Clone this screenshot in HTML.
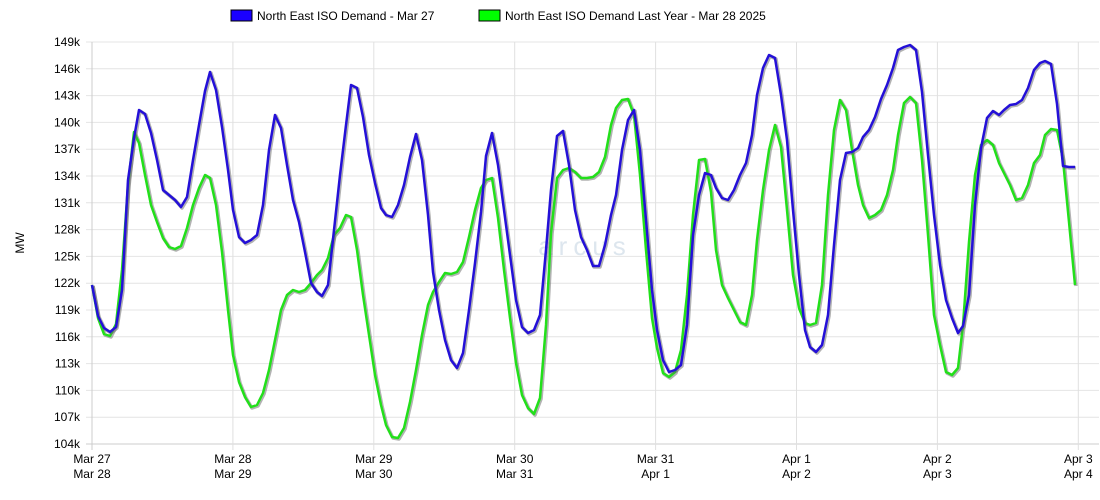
<!DOCTYPE html>
<html><head><style>body{margin:0;background:#fff}svg{display:block;font-family:"Liberation Sans",Arial,sans-serif}</style></head><body>
<svg width="1100" height="500" xmlns="http://www.w3.org/2000/svg" id="s">
<g id="grid"></g>
<rect x="231" y="10" width="21" height="11" fill="#1a00ff" stroke="#000" stroke-width="1"/>
<text x="257" y="20" font-size="12" fill="#000">North East ISO Demand - Mar 27</text>
<rect x="479" y="10" width="21" height="11" fill="#00ff00" stroke="#000" stroke-width="1"/>
<text x="505" y="20" font-size="12" fill="#000">North East ISO Demand Last Year - Mar 28 2025</text>
<text transform="translate(24,243) rotate(-90)" font-size="12" text-anchor="middle">MW</text>
<text x="585" y="255" font-size="26" fill="#dde6ee" text-anchor="middle" letter-spacing="6">arcus</text>
<polyline id="g" fill="none" stroke="#666" stroke-opacity="0.5" stroke-width="3.5" stroke-linejoin="round" transform="translate(1,1)"/>
<polyline id="g2" fill="none" stroke="#22e01a" stroke-width="2.5" stroke-linejoin="round"/>
<polyline id="b" fill="none" stroke="#666" stroke-opacity="0.5" stroke-width="3.5" stroke-linejoin="round" transform="translate(1,1)"/>
<polyline id="b2" fill="none" stroke="#2410d8" stroke-width="2.5" stroke-linejoin="round"/>
</svg>
<script>
var B=[92,285,98,316,104,328,110,332,116,327,122,290,128,180,134,138,139,110,145,114,151,133,157,160,163,190,169,195,175,200,181,207,187,197,193,160,199,125,205,91,210,72,216,90,222,127,228,170,233,210,239,237,245,243,251,240,257,235,263,205,269,150,275,115,281,128,287,165,293,200,299,222,305,252,311,283,317,292,322,296,328,285,334,230,340,175,346,125,351,85,357,88,363,117,369,155,375,183,381,208,386,215,392,217,398,205,404,185,410,157,416,134,422,160,428,215,433,272,439,310,445,340,451,360,457,368,463,353,469,310,475,263,481,212,486,156,492,133,498,165,504,210,510,255,516,300,522,327,528,333,534,330,540,315,546,250,551,190,557,136,563,131,569,165,575,210,581,237,587,250,593,266,599,266,605,245,611,215,616,195,622,150,628,120,634,110,640,150,646,220,652,290,657,330,663,360,669,372,675,370,681,365,687,325,693,235,699,195,705,173,711,175,716,188,722,198,728,200,734,190,740,175,746,163,752,135,757,95,763,68,769,55,775,58,781,95,787,140,793,210,799,275,805,330,810,347,816,352,822,345,828,315,834,245,840,180,846,153,852,152,858,148,863,137,869,130,875,117,881,99,887,85,893,68,898,50,904,47,910,45,916,50,922,92,928,155,934,215,940,265,946,300,952,318,958,333,963,326,969,295,975,205,981,148,987,118,993,111,999,115,1004,110,1010,105,1016,104,1022,100,1028,88,1034,70,1040,63,1045,61,1051,64,1057,104,1063,166,1069,167,1075,167];
var G=[92,285,98,318,104,334,110,336,116,324,122,270,128,185,134,132,139,143,145,175,151,205,157,222,163,238,169,247,175,249,181,246,187,228,193,205,199,188,205,175,210,178,216,205,222,252,228,310,233,355,239,382,245,397,251,407,257,405,263,393,269,370,275,340,281,310,287,295,293,290,299,292,305,290,311,283,317,275,322,270,328,258,334,235,340,228,346,215,351,217,357,250,363,295,369,335,375,375,381,405,386,425,392,437,398,438,404,428,410,402,416,370,422,335,428,305,433,292,439,282,445,273,451,274,457,272,463,262,469,237,475,210,481,188,486,180,492,178,498,218,504,270,510,318,516,363,522,395,528,408,534,414,540,398,546,325,551,233,557,178,563,170,569,168,575,172,581,178,587,178,593,177,599,172,605,157,611,125,616,108,622,100,628,99,634,115,640,175,646,250,652,318,657,348,663,373,669,377,675,372,681,350,687,295,693,215,699,160,705,159,711,192,716,250,722,285,728,298,734,310,740,322,746,325,752,295,757,240,763,190,769,150,775,125,781,147,787,210,793,275,799,308,805,323,810,325,816,323,822,285,828,195,834,130,840,100,846,110,852,150,858,185,863,205,869,218,875,215,881,210,887,195,893,170,898,135,904,103,910,97,916,103,922,160,928,235,934,315,940,345,946,372,952,375,958,368,963,325,969,242,975,175,981,145,987,140,993,145,999,163,1004,173,1010,185,1016,200,1022,198,1028,185,1034,163,1040,155,1045,135,1051,129,1057,130,1063,160,1069,222,1075,285];
function pts(a){var s=[];for(var i=0;i<a.length;i+=2)s.push(a[i]+','+a[i+1]);return s.join(' ');}
['g','g2'].forEach(function(id){document.getElementById(id).setAttribute('points',pts(G))});
['b','b2'].forEach(function(id){document.getElementById(id).setAttribute('points',pts(B))});
var h='';
for(var i=0;i<16;i++){var y=444-i*26.8;var v=104+i*3;
h+='<line x1="86" x2="1099" y1="'+y+'" y2="'+y+'" stroke="'+(i==0?'#ccc':'#e4e4e4')+'"/>';
h+='<text x="80" y="'+(y+4)+'" font-size="12" text-anchor="end">'+v+'k</text>';}
var d1=['Mar 27','Mar 28','Mar 29','Mar 30','Mar 31','Apr 1','Apr 2','Apr 3'],d2=['Mar 28','Mar 29','Mar 30','Mar 31','Apr 1','Apr 2','Apr 3','Apr 4'];
for(var j=0;j<8;j++){var x=92+j*140.9;
h+='<line x1="'+x+'" x2="'+x+'" y1="42" y2="450" stroke="'+(j==0?'#ccc':'#e0e0e0')+'"/>';
h+='<text x="'+x+'" y="463" font-size="12" text-anchor="middle">'+d1[j]+'</text><text x="'+x+'" y="478" font-size="12" text-anchor="middle">'+d2[j]+'</text>';}
document.getElementById('grid').innerHTML=h;
</script>
</body></html>
